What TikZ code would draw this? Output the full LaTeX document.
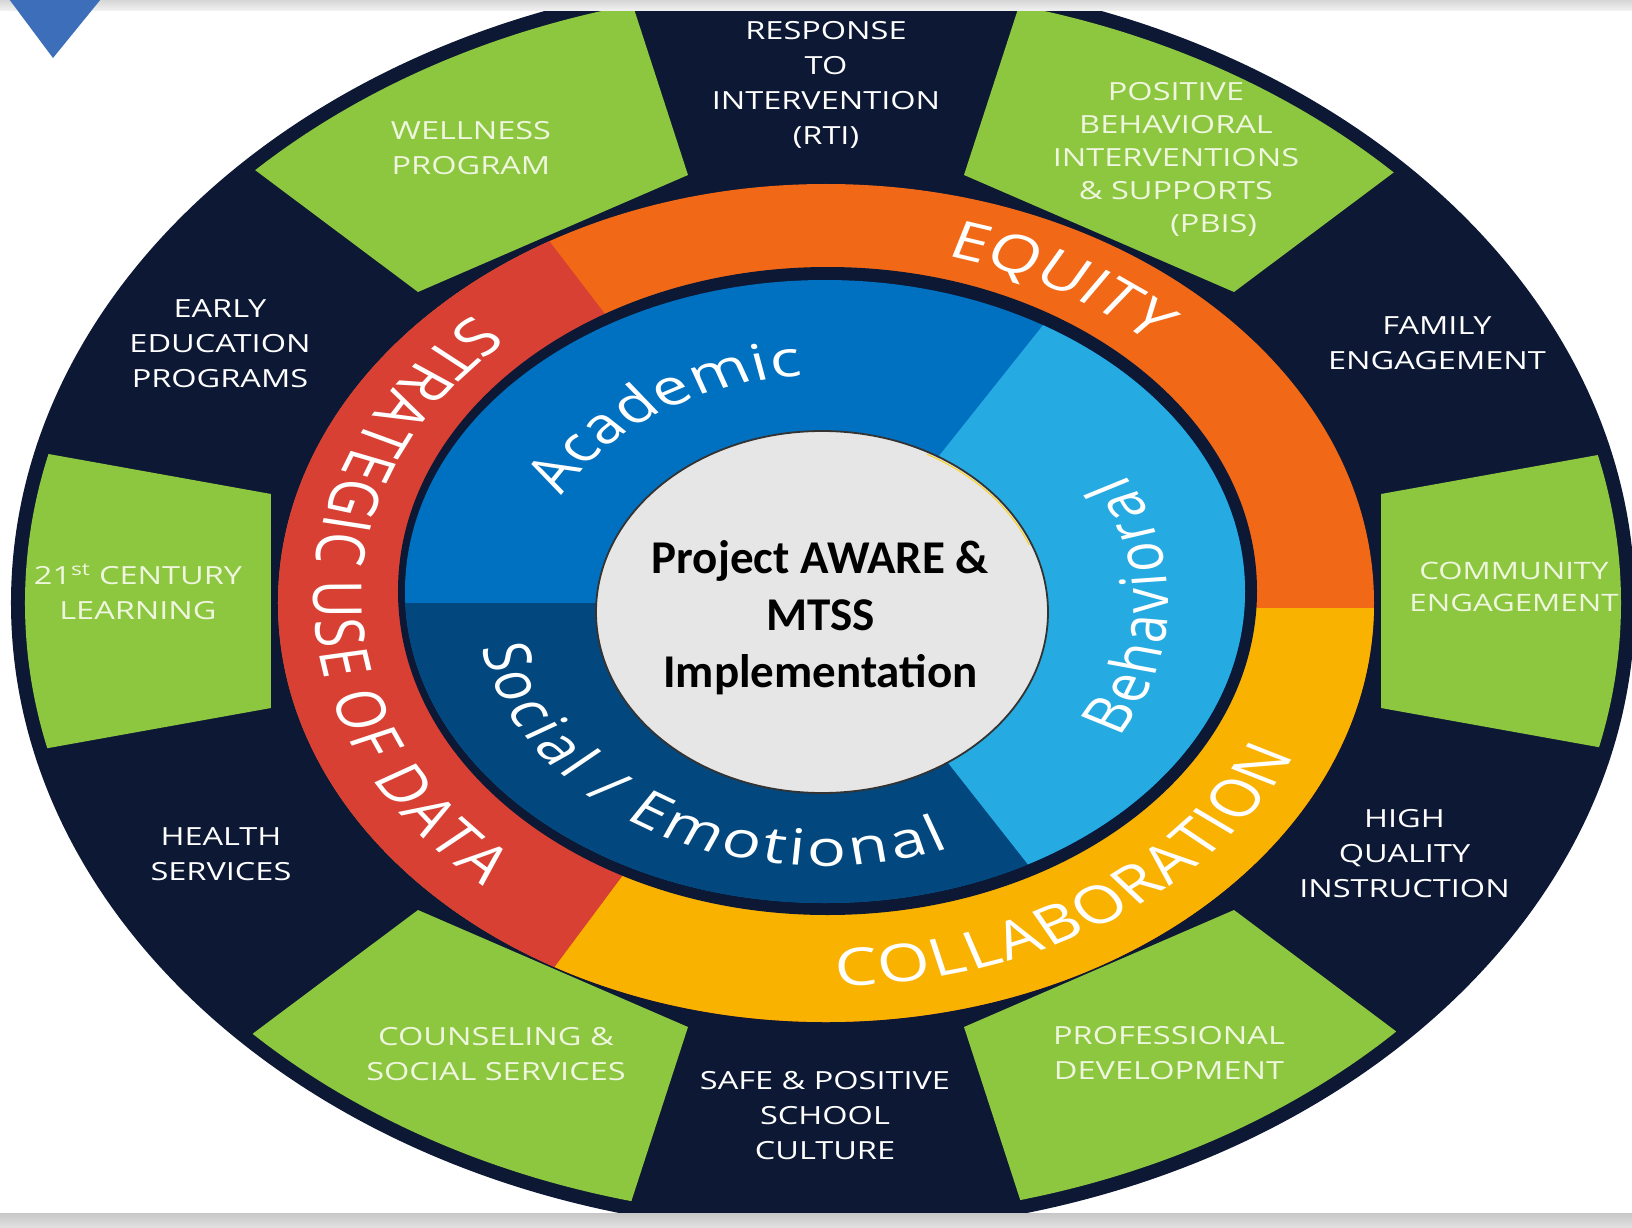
\documentclass[tikz,border=0pt]{standalone}
\usepackage{fontspec}
\setmainfont{Open Sans}
\newfontfamily\ctrfont{Carlito}
\usetikzlibrary{decorations.text}
\definecolor{navy}{RGB}{12,24,52}
\definecolor{lgreen}{RGB}{141,198,63}
\definecolor{orng}{RGB}{241,105,22}
\definecolor{rred}{RGB}{216,64,52}
\definecolor{yllw}{RGB}{250,178,0}
\definecolor{acad}{RGB}{0,112,192}
\definecolor{behav}{RGB}{38,170,226}
\definecolor{socem}{RGB}{2,72,126}
\definecolor{cgray}{RGB}{230,230,230}
\definecolor{tri}{RGB}{60,110,186}
\definecolor{gtext}{RGB}{238,246,222}
\newcommand\lblfont{\fontsize{25}{35}\selectfont}
\newcommand\lblfontb{\fontsize{25}{33}\selectfont}
\newcommand\lblfontc{\fontsize{24}{32}\selectfont}
\newcommand\ringfont{\fontsize{52}{60}\selectfont}
\newcommand\innerfont{\fontsize{50}{60}\selectfont}
\begin{document}
\begin{tikzpicture}[x=1pt,y=1pt,
  lbl/.style={align=center, inner sep=0, xscale=1.3, font=\lblfont, text=white},
  glbl/.style={lbl, text=gtext},
  greenseg/.style={fill=lgreen}]
\useasboundingbox (-826,-624) rectangle (806,603);
\fill[white] (-826,-624) rectangle (806,603);
% outer navy ellipse
\fill[navy] (-3,0) ellipse [x radius=812, y radius=630];
% green segments
\begin{scope}
  \clip (-3,0) ellipse [x radius=798, y radius=616];
  \begin{scope}[shift={(0,2)}]
    \fill[greenseg] (-408,309) -- (-138,426) -- (-217.5,670.5) -- (-734,553) -- cycle;
    \fill[greenseg] (408,309) -- (138,426) -- (217.5,670.5) -- (734,553) -- cycle;
    \fill[greenseg] (-408,-309) -- (-138,-426) -- (-217.5,-670.5) -- (-734,-553) -- cycle;
    \fill[greenseg] (408,-309) -- (138,-426) -- (217.5,-670.5) -- (734,-553) -- cycle;
    \fill[greenseg] (-555,107) -- (-555,-107) -- (-897,-168.5) -- (-897,168.5) -- cycle;
    \fill[greenseg] (555,107) -- (555,-107) -- (897,-168.5) -- (897,168.5) -- cycle;
  \end{scope}
\end{scope}
% coloured ring
\fill[orng] (0,0) ellipse [x radius=548, y radius=419];
\begin{scope}
  \clip (0,0) ellipse [x radius=548, y radius=419];
  \fill[rred] (0,0) -- (127.4:1500) -- (-1500,0) -- (233.3:1500) -- cycle;
  \fill[yllw] (0,0) -- (233.3:1500) -- (0,-1500) -- (1500,-1500) -- (1500,-5) -- (0,-5) -- cycle;
\end{scope}
% navy separator
\fill[navy] (1.5,12) ellipse [x radius=429.5, y radius=324];
% blue ring
\fill[acad] (-1,11.5) ellipse [x radius=420, y radius=311.5];
\begin{scope}
  \clip (-1,11.5) ellipse [x radius=420, y radius=311.5];
  \fill[behav] (-4,0) -- (618.5,782.6) -- (1200,782.6) -- (1200,-785.9) -- (614.3,-785.9) -- cycle;
  \fill[socem] (-4,0) -- (-1200,0) -- (-1200,-900) -- (614.3,-785.9) -- cycle;
\end{scope}
% centre ellipse
\filldraw[fill=cgray, draw=black!80, line width=1.8] (-4,-9) ellipse [x radius=226, y radius=181];
\draw[yellow!70!orange, line width=0.9] (-4,-9) ++(22:223.6 and 178.6) arc [start angle=22, end angle=62, x radius=223.6, y radius=178.6];
% curved texts (stretched like the original)
\begin{scope}[transform canvas={xscale=1.3}]
  \path[decorate, decoration={text along path, text align=fit to path,
      text={|\color{white}\ringfont|STRATEGIC USE OF DATA}}]
    ([shift={(0,6)}]133.5:394 and 389.5) arc [start angle=133.5, end angle=228, x radius=394, y radius=389.5];
  \path[decorate, decoration={text along path, text align=fit to path,
      text={|\color{white}\ringfont|EQUITY}}]
    ([shift={(0,6)}]75:358 and 353.5) arc [start angle=75, end angle=46, x radius=358, y radius=353.5];
  \path[decorate, decoration={text along path, text align=fit to path,
      text={|\color{white}\ringfont|COLLABORATION}}]
    ([shift={(0,6)}]-88.8:394 and 389.5) arc [start angle=-88.8, end angle=-24, x radius=394, y radius=389.5];
  \path[decorate, decoration={text along path, text align=fit to path,
      text={|\color{white}\innerfont|Academic}}]
    ([shift={(-1.5,1)}]152:228 and 227) arc [start angle=152, end angle=94, x radius=228, y radius=227];
  \path[decorate, decoration={text along path, text align=fit to path,
      text={|\color{white}\innerfont|Social / Emotional}}]
    ([shift={(-1.5,1)}]189.8:267 and 264) arc [start angle=189.8, end angle=291.2, x radius=267, y radius=264];
  \path[decorate, decoration={text along path, text align=fit to path,
      text={|\color{white}\innerfont|Behavioral}}]
    ([shift={(-1.5,1)}]-31.2:265 and 262) arc [start angle=-31.2, end angle=29.1, x radius=265, y radius=262];
\end{scope}
% outer labels
\node[lbl] (rti) at (0,518.5) {RESPONSE\\TO\\INTERVENTION\\(RTI)};
\node[glbl] (wellness) at (-355,455) {WELLNESS\\PROGRAM};
\node[glbl, font=\lblfontb] (pbis) at (350,443.5) {POSITIVE\\BEHAVIORAL\\INTERVENTIONS\\\&~SUPPORTS\\\hspace*{58pt}(PBIS)};
\node[lbl] (family) at (611,260) {FAMILY\\ENGAGEMENT};
\node[glbl, font=\lblfontc] (community) at (688,16) {COMMUNITY\\ENGAGEMENT};
\node[lbl] (hqi) at (578.5,-251) {HIGH\\QUALITY\\INSTRUCTION};
\node[glbl] (prof) at (343,-450.5) {PROFESSIONAL\\DEVELOPMENT};
\node[lbl] (safe) at (-1,-513) {SAFE \& POSITIVE\\SCHOOL\\CULTURE};
\node[glbl] (counsel) at (-330,-451.5) {COUNSELING \&\\SOCIAL SERVICES};
\node[lbl] (health) at (-605,-251.5) {HEALTH\\SERVICES};
\node[glbl] (c21) at (-688,11.5) {21\textsuperscript{st} CENTURY\\LEARNING};
\node[lbl] (early) at (-606,259.5) {EARLY\\EDUCATION\\PROGRAMS};
% centre text
\node[align=center, inner sep=0, font=\ctrfont\bfseries\fontsize{47}{57}\selectfont] (ctr) at (-5.5,-15) {Project AWARE \&\\MTSS\\Implementation};
% top and bottom strips
\shade[top color=black!16, bottom color=black!5] (-826,592) rectangle (806,603);
\shade[top color=black!22, bottom color=black!12] (-826,-624) rectangle (806,-610);
% corner triangle
\fill[tri] (-817,604) -- (-725,604) -- (-773,545) -- cycle;
\end{tikzpicture}
\end{document}
